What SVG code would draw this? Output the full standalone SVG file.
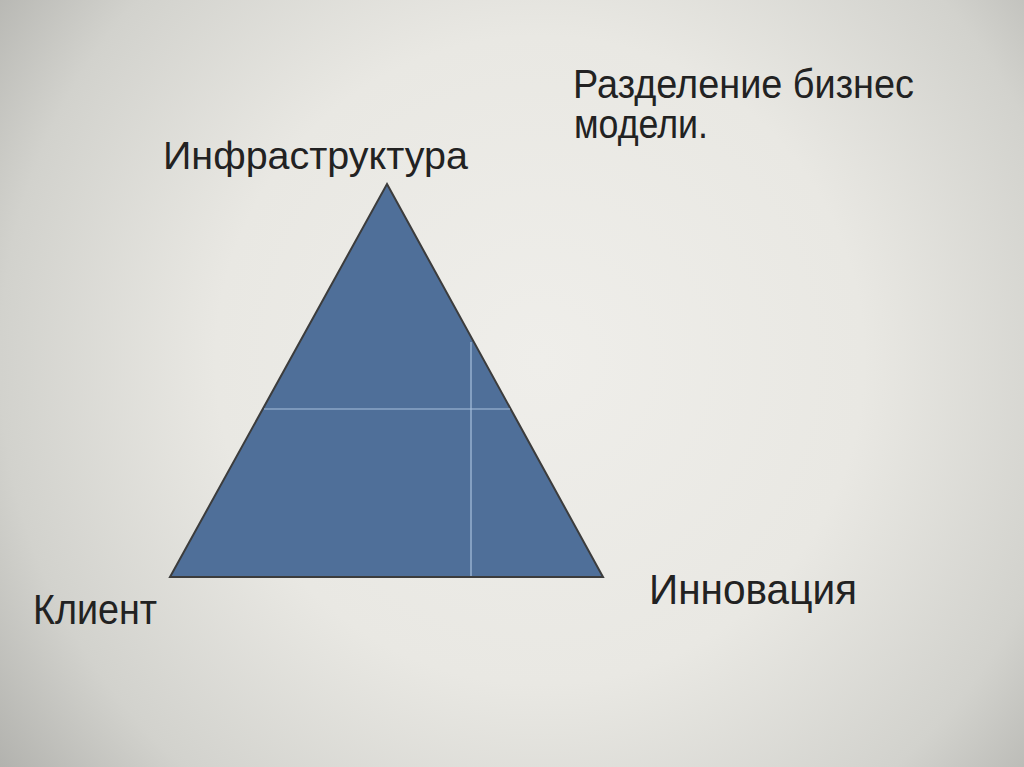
<svg xmlns="http://www.w3.org/2000/svg" width="1024" height="767" viewBox="0 0 1024 767">
  <defs>
    <radialGradient id="bg" cx="540" cy="360" r="720" gradientUnits="userSpaceOnUse">
      <stop offset="0" stop-color="#efeeea"/>
      <stop offset="0.45" stop-color="#e9e8e3"/>
      <stop offset="0.75" stop-color="#d2d2cd"/>
      <stop offset="1" stop-color="#a8a8a4"/>
    </radialGradient>
  </defs>
  <style>
    .lbl { font-family: "Liberation Sans", Arial, sans-serif; fill: #222222; }
    .tri { fill: #4f6f99; stroke: #3c3c3c; stroke-width: 2; stroke-linejoin: miter; }
    .div { stroke: #a9c1de; stroke-width: 1.2; fill: none; }
  </style>
  <rect x="0" y="0" width="1024" height="767" fill="url(#bg)"/>

  <g id="triangle">
    <polygon class="tri" points="387,184 603,577 170,577"/>
  </g>

  <g id="connectors">
    <line class="div" x1="264" y1="409" x2="510" y2="409"/>
    <line class="div" x1="471" y1="342" x2="471" y2="576"/>
  </g>

  <g id="title">
    <text class="lbl" x="573" y="98" font-size="40" textLength="341" lengthAdjust="spacingAndGlyphs">Разделение бизнес</text>
    <text class="lbl" x="574" y="138" font-size="40" textLength="134" lengthAdjust="spacingAndGlyphs">модели.</text>
  </g>

  <g id="infra">
    <text class="lbl" x="163" y="169" font-size="38" textLength="305" lengthAdjust="spacingAndGlyphs">Инфраструктура</text>
  </g>

  <g id="client">
    <text class="lbl" x="33" y="624" font-size="42" textLength="124" lengthAdjust="spacingAndGlyphs">Клиент</text>
  </g>

  <g id="innovation">
    <text class="lbl" x="649" y="604" font-size="43" textLength="208" lengthAdjust="spacingAndGlyphs">Инновация</text>
  </g>
</svg>
